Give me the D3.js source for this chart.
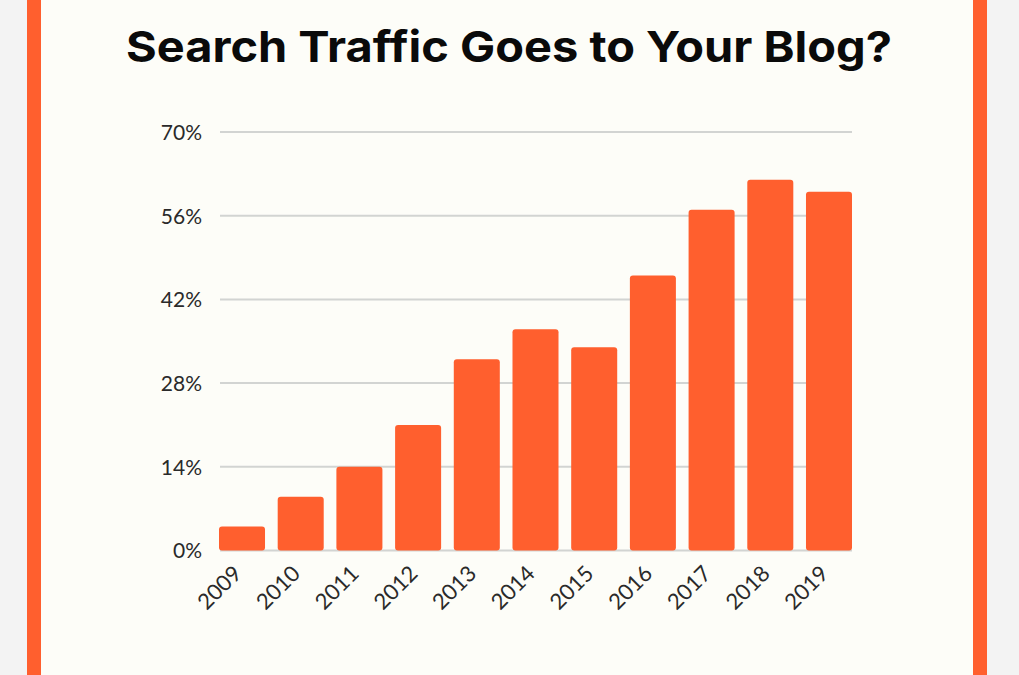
<!DOCTYPE html>
<html>
<head>
<meta charset="utf-8">
<script src="https://cdn.jsdelivr.net/npm/d3@7"></script>
<style>
  html, body { margin: 0; padding: 0; background: #f3f3f3; }
  svg { display: block; }
</style>
</head>
<body>
<svg id="chart" width="1019" height="675"></svg>
<script>
const years = ["2009","2010","2011","2012","2013","2014","2015","2016","2017","2018","2019"];
const shares = [4, 9, 14, 21, 32, 37, 34, 46, 57, 62, 60];
const yTicks = [0, 14, 28, 42, 56, 70];
const titleText = "Search Traffic Goes to Your Blog?";

const svg = d3.select("#chart");
const W = 1019, H = 675;

// page background and frame
svg.append("rect").attr("x", 0).attr("y", 0).attr("width", W).attr("height", H).attr("fill", "#f3f3f3");
svg.append("rect").attr("x", 27).attr("y", -5).attr("width", 960).attr("height", H + 10).attr("fill", "#ff5f2e");
svg.append("rect").attr("x", 41).attr("y", -5).attr("width", 932).attr("height", H + 10).attr("fill", "#fdfdf8");

// title
svg.append("text")
  .attr("x", 509).attr("y", 62)
  .attr("text-anchor", "middle")
  .attr("font-family", "Inter, 'Noto Sans', sans-serif")
  .attr("font-weight", 700)
  .attr("font-size", 43)
  .attr("fill", "#0a0a0a")
  .attr("textLength", 766)
  .attr("lengthAdjust", "spacingAndGlyphs")
  .text(titleText);

const x = d3.scaleBand().domain(years).range([219, 852]).paddingInner(0.216).paddingOuter(0);
const y = d3.scaleLinear().domain([0, 70]).range([550.5, 132]);

// gridlines
const grid = svg.append("g");
grid.selectAll("line").data(yTicks).join("line")
  .attr("x1", 220).attr("x2", 852)
  .attr("y1", d => y(d)).attr("y2", d => y(d))
  .attr("stroke", "#d2d4d2").attr("stroke-width", 2);

// y axis labels
const yAxis = d3.axisLeft(y).tickValues(yTicks).tickSize(0).tickPadding(0).tickFormat(d => d + "%");
const ga = svg.append("g").attr("transform", "translate(202,0)").call(yAxis);
ga.select(".domain").remove();
ga.selectAll("text")
  .attr("font-family", "Lato, 'Noto Sans', sans-serif")
  .attr("font-size", 21)
  .attr("fill", "#2a2a2a")
  .attr("dy", "0.35em");

// bars
svg.append("g").selectAll("rect").data(years).join("rect")
  .attr("x", d => x(d))
  .attr("width", x.bandwidth())
  .attr("y", (d, i) => y(shares[i]))
  .attr("height", (d, i) => y(0) - y(shares[i]))
  .attr("rx", 3)
  .attr("fill", "#ff5f2e");

// x axis labels
const xAxis = d3.axisBottom(x).tickSize(0).tickPadding(0);
const gx = svg.append("g").attr("transform", "translate(0,562)").call(xAxis);
gx.select(".domain").remove();
gx.selectAll("text")
  .attr("font-family", "Lato, 'Noto Sans', sans-serif")
  .attr("font-size", 22)
  .attr("fill", "#2a2a2a")
  .attr("text-anchor", "end")
  .attr("dy", "0.7em")
  .attr("transform", "translate(-10,2) rotate(-45)");
</script>
</body>
</html>
